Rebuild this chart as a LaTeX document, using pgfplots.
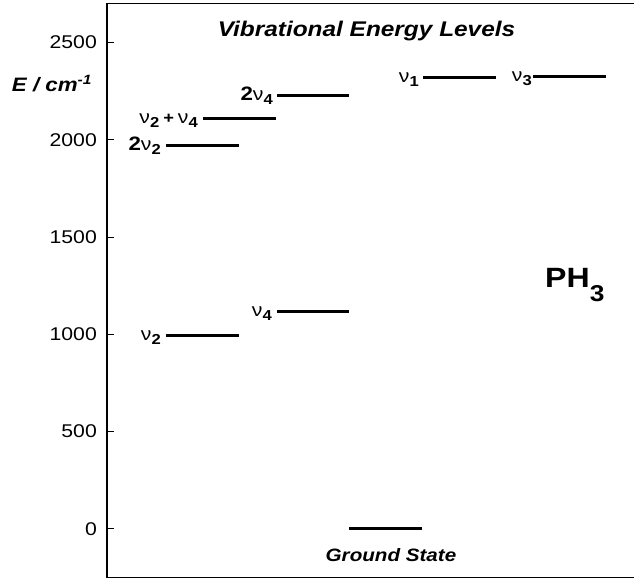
\documentclass[border=0pt]{standalone}
\usepackage{fontspec}
\setmainfont{Liberation Sans}[FakeStretch=1.15]
\usepackage{pgfplots}
\pgfplotsset{compat=1.18}
\tikzset{lbl/.style={inner sep=0pt, anchor=base east}}
\newcommand{\nuv}[1]{{\fontsize{18.5}{18.5}\selectfont\mdseries ν}\raisebox{-4bp}{\fontsize{14.5}{14.5}\selectfont\bfseries #1}}
\newcommand{\two}{{\fontsize{19.5}{19.5}\selectfont\bfseries 2}}
\begin{document}
\begin{tikzpicture}
\useasboundingbox (0,0) rectangle (634bp,581bp);
\begin{axis}[
  at={(107bp,3.5bp)}, anchor=south west,
  scale only axis, width=527bp, height=573.8bp,
  xmin=0, xmax=527, ymin=-250, ymax=2700,
  axis x line*=bottom, axis y line*=left,
  axis line style={line width=1.1bp},
  xtick=\empty,
  ytick={0,500,...,2500},
  tick align=inside, major tick length=7bp,
  tick style={line width=1bp, black},
  yticklabel style={font=\fontsize{18.5}{18.5}\selectfont, inner sep=0pt, xshift=-10bp},
  /pgf/number format/assume math mode=true,
  /pgf/number format/1000 sep={},
  clip=false,
  lvl/.style={black, solid, line width=3bp, mark=none},
]
% vibrational levels (E in cm^-1)
\addplot[lvl] coordinates {(59,992) (132,992)};    % nu2
\addplot[lvl] coordinates {(59,1973) (132,1973)};  % 2nu2
\addplot[lvl] coordinates {(96,2108) (169,2108)};  % nu2+nu4
\addplot[lvl] coordinates {(170,1118) (242,1118)}; % nu4
\addplot[lvl] coordinates {(170,2226) (242,2226)}; % 2nu4
\addplot[lvl] coordinates {(242,0) (315,0)};       % ground
\addplot[lvl] coordinates {(316,2321) (389,2321)}; % nu1
\addplot[lvl] coordinates {(426,2327) (499,2327)}; % nu3

\draw[line width=1.1bp, line cap=rect] (rel axis cs:0,1) -- (rel axis cs:1,1);

\node[lbl] at (axis cs:54,966) {\nuv{2}};
\node[lbl] at (axis cs:54,1947) {\two\nuv{2}};
\node[lbl] at (axis cs:91,2082) {\nuv{2}\hspace{4bp}{\fontsize{16}{16}\selectfont\bfseries +}\hspace{4bp}\nuv{4}};
\node[lbl] at (axis cs:165,1092) {\nuv{4}};
\node[lbl] at (axis cs:166,2200) {\two\nuv{4}};
\node[lbl] at (axis cs:312,2295) {\nuv{1}};
\node[lbl] at (axis cs:425,2301) {\nuv{3}};

\node[inner sep=0pt, anchor=base, font=\fontsize{21.3}{21.3}\selectfont\bfseries\itshape] at (axis cs:259.5,2529) {Vibrational Energy Levels};
\node[inner sep=0pt, anchor=base east, font=\fontsize{19.5}{19.5}\selectfont\bfseries\itshape] at (axis cs:-15.3,2248) {E / cm\raisebox{7bp}{\fontsize{13.5}{13.5}\selectfont -1}};
\node[inner sep=0pt, anchor=base, font=\fontsize{18}{18}\selectfont\bfseries\itshape] at (axis cs:284,-168) {Ground State};
\node[inner sep=0pt, anchor=base west, font=\fontsize{28}{28}\selectfont\bfseries] at (axis cs:438,1240) {PH\raisebox{-14bp}{\fontsize{23}{23}\selectfont 3}};
\end{axis}
\end{tikzpicture}
\end{document}
